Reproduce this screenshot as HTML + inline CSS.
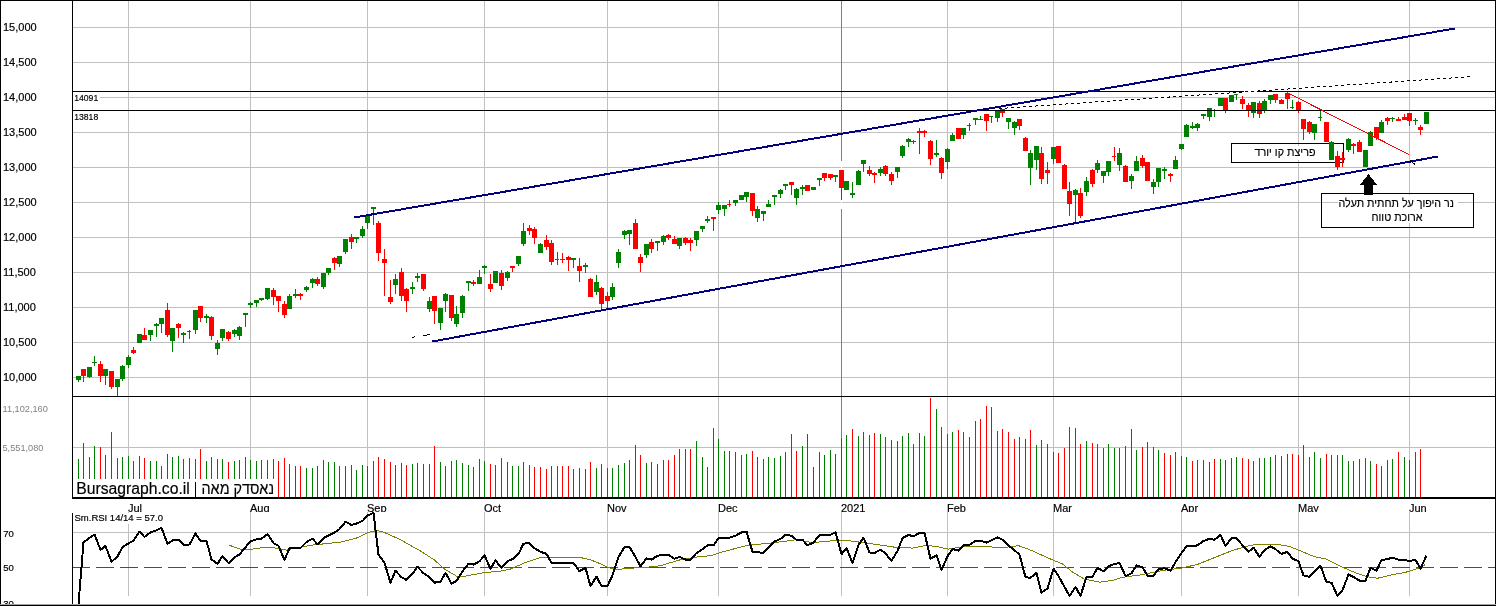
<!DOCTYPE html>
<html><head><meta charset="utf-8"><title>Bursagraph chart</title>
<style>html,body{margin:0;padding:0;background:#fff;}svg{display:block;}</style>
</head><body>
<svg width="1496" height="606" viewBox="0 0 1496 606" shape-rendering="crispEdges">
<rect x="73" y="27" width="1422" height="1" fill="#c0c0c0"/>
<rect x="73" y="62" width="1422" height="1" fill="#c0c0c0"/>
<rect x="73" y="97" width="1422" height="1" fill="#c0c0c0"/>
<rect x="73" y="132" width="1422" height="1" fill="#c0c0c0"/>
<rect x="73" y="167" width="1422" height="1" fill="#c0c0c0"/>
<rect x="73" y="202" width="1422" height="1" fill="#c0c0c0"/>
<rect x="73" y="237" width="1422" height="1" fill="#c0c0c0"/>
<rect x="73" y="272" width="1422" height="1" fill="#c0c0c0"/>
<rect x="73" y="307" width="1422" height="1" fill="#c0c0c0"/>
<rect x="73" y="342" width="1422" height="1" fill="#c0c0c0"/>
<rect x="73" y="377" width="1422" height="1" fill="#c0c0c0"/>
<rect x="73" y="447" width="1422" height="1" fill="#c0c0c0"/>
<rect x="73" y="532" width="1422" height="1" fill="#c0c0c0"/>
<rect x="128" y="1" width="1" height="395" fill="#c0c0c0"/>
<rect x="128" y="397" width="1" height="100" fill="#c0c0c0"/>
<rect x="128" y="512" width="1" height="84" fill="#c0c0c0"/>
<rect x="250" y="1" width="1" height="395" fill="#c0c0c0"/>
<rect x="250" y="397" width="1" height="100" fill="#c0c0c0"/>
<rect x="250" y="512" width="1" height="84" fill="#c0c0c0"/>
<rect x="367" y="1" width="1" height="395" fill="#c0c0c0"/>
<rect x="367" y="397" width="1" height="100" fill="#c0c0c0"/>
<rect x="367" y="512" width="1" height="84" fill="#c0c0c0"/>
<rect x="484" y="1" width="1" height="395" fill="#c0c0c0"/>
<rect x="484" y="397" width="1" height="100" fill="#c0c0c0"/>
<rect x="484" y="512" width="1" height="84" fill="#c0c0c0"/>
<rect x="607" y="1" width="1" height="395" fill="#c0c0c0"/>
<rect x="607" y="397" width="1" height="100" fill="#c0c0c0"/>
<rect x="607" y="512" width="1" height="84" fill="#c0c0c0"/>
<rect x="718" y="1" width="1" height="395" fill="#c0c0c0"/>
<rect x="718" y="397" width="1" height="100" fill="#c0c0c0"/>
<rect x="718" y="512" width="1" height="84" fill="#c0c0c0"/>
<rect x="841" y="1" width="1" height="160" fill="#808080"/>
<rect x="841" y="209" width="1" height="187" fill="#808080"/>
<rect x="841" y="397" width="1" height="100" fill="#808080"/>
<rect x="841" y="512" width="1" height="84" fill="#c0c0c0"/>
<rect x="947" y="1" width="1" height="395" fill="#c0c0c0"/>
<rect x="947" y="397" width="1" height="100" fill="#c0c0c0"/>
<rect x="947" y="512" width="1" height="84" fill="#c0c0c0"/>
<rect x="1053" y="1" width="1" height="395" fill="#c0c0c0"/>
<rect x="1053" y="397" width="1" height="100" fill="#c0c0c0"/>
<rect x="1053" y="512" width="1" height="84" fill="#c0c0c0"/>
<rect x="1181" y="1" width="1" height="395" fill="#c0c0c0"/>
<rect x="1181" y="397" width="1" height="100" fill="#c0c0c0"/>
<rect x="1181" y="512" width="1" height="84" fill="#c0c0c0"/>
<rect x="1298" y="1" width="1" height="395" fill="#c0c0c0"/>
<rect x="1298" y="397" width="1" height="100" fill="#c0c0c0"/>
<rect x="1298" y="512" width="1" height="84" fill="#c0c0c0"/>
<rect x="1409" y="1" width="1" height="395" fill="#c0c0c0"/>
<rect x="1409" y="397" width="1" height="100" fill="#c0c0c0"/>
<rect x="1409" y="512" width="1" height="84" fill="#c0c0c0"/>
<rect x="841" y="167" width="1" height="1" fill="#fff"/><rect x="841" y="202" width="1" height="1" fill="#fff"/>
<line x1="72" y1="567.5" x2="1495" y2="567.5" stroke="#ff0000" stroke-width="1" stroke-dasharray="18 6"/>
<rect x="73" y="92" width="27" height="10" fill="#fff"/>
<rect x="73" y="111" width="26" height="10" fill="#fff"/>
<rect x="1231.5" y="143.5" width="112" height="19" fill="none" stroke="#000" stroke-width="1"/>
<rect x="1321.5" y="193.5" width="152" height="34" fill="none" stroke="#000" stroke-width="1"/>
<rect x="1338" y="195" width="120" height="13" fill="#fff"/>
<rect x="1370" y="208" width="54" height="15" fill="#fff"/>
<rect x="1252" y="146" width="66" height="14" fill="#fff"/>
<rect x="78" y="459" width="1" height="38" fill="#008000"/>
<rect x="83" y="443" width="1" height="54" fill="#ff0000"/>
<rect x="89" y="457" width="1" height="40" fill="#008000"/>
<rect x="94" y="446" width="1" height="51" fill="#008000"/>
<rect x="100" y="447" width="1" height="50" fill="#ff0000"/>
<rect x="105" y="455" width="1" height="42" fill="#008000"/>
<rect x="111" y="432" width="1" height="65" fill="#ff0000"/>
<rect x="117" y="458" width="1" height="39" fill="#008000"/>
<rect x="122" y="457" width="1" height="40" fill="#008000"/>
<rect x="128" y="456" width="1" height="41" fill="#008000"/>
<rect x="133" y="461" width="1" height="36" fill="#008000"/>
<rect x="139" y="456" width="1" height="41" fill="#008000"/>
<rect x="144" y="458" width="1" height="39" fill="#ff0000"/>
<rect x="150" y="461" width="1" height="36" fill="#008000"/>
<rect x="156" y="461" width="1" height="36" fill="#008000"/>
<rect x="161" y="466" width="1" height="31" fill="#008000"/>
<rect x="167" y="454" width="1" height="43" fill="#ff0000"/>
<rect x="172" y="457" width="1" height="40" fill="#008000"/>
<rect x="178" y="456" width="1" height="41" fill="#008000"/>
<rect x="183" y="459" width="1" height="38" fill="#ff0000"/>
<rect x="189" y="458" width="1" height="39" fill="#008000"/>
<rect x="195" y="459" width="1" height="38" fill="#008000"/>
<rect x="200" y="449" width="1" height="48" fill="#ff0000"/>
<rect x="206" y="461" width="1" height="36" fill="#008000"/>
<rect x="211" y="457" width="1" height="40" fill="#ff0000"/>
<rect x="217" y="459" width="1" height="38" fill="#ff0000"/>
<rect x="222" y="459" width="1" height="38" fill="#008000"/>
<rect x="228" y="462" width="1" height="35" fill="#ff0000"/>
<rect x="234" y="461" width="1" height="36" fill="#008000"/>
<rect x="239" y="460" width="1" height="37" fill="#008000"/>
<rect x="245" y="457" width="1" height="40" fill="#008000"/>
<rect x="250" y="460" width="1" height="37" fill="#008000"/>
<rect x="256" y="461" width="1" height="36" fill="#008000"/>
<rect x="261" y="460" width="1" height="37" fill="#008000"/>
<rect x="267" y="460" width="1" height="37" fill="#008000"/>
<rect x="273" y="459" width="1" height="38" fill="#ff0000"/>
<rect x="278" y="461" width="1" height="36" fill="#ff0000"/>
<rect x="284" y="458" width="1" height="39" fill="#ff0000"/>
<rect x="289" y="464" width="1" height="33" fill="#008000"/>
<rect x="295" y="466" width="1" height="31" fill="#008000"/>
<rect x="300" y="466" width="1" height="31" fill="#ff0000"/>
<rect x="306" y="468" width="1" height="29" fill="#008000"/>
<rect x="312" y="468" width="1" height="29" fill="#008000"/>
<rect x="317" y="466" width="1" height="31" fill="#ff0000"/>
<rect x="323" y="460" width="1" height="37" fill="#008000"/>
<rect x="328" y="462" width="1" height="35" fill="#008000"/>
<rect x="334" y="462" width="1" height="35" fill="#008000"/>
<rect x="339" y="466" width="1" height="31" fill="#008000"/>
<rect x="345" y="466" width="1" height="31" fill="#008000"/>
<rect x="351" y="465" width="1" height="32" fill="#ff0000"/>
<rect x="356" y="470" width="1" height="27" fill="#008000"/>
<rect x="362" y="465" width="1" height="32" fill="#008000"/>
<rect x="367" y="466" width="1" height="31" fill="#008000"/>
<rect x="373" y="461" width="1" height="36" fill="#008000"/>
<rect x="378" y="457" width="1" height="40" fill="#ff0000"/>
<rect x="384" y="459" width="1" height="38" fill="#ff0000"/>
<rect x="390" y="462" width="1" height="35" fill="#ff0000"/>
<rect x="395" y="465" width="1" height="32" fill="#008000"/>
<rect x="401" y="463" width="1" height="34" fill="#ff0000"/>
<rect x="406" y="465" width="1" height="32" fill="#ff0000"/>
<rect x="412" y="464" width="1" height="33" fill="#008000"/>
<rect x="417" y="463" width="1" height="34" fill="#008000"/>
<rect x="423" y="464" width="1" height="33" fill="#ff0000"/>
<rect x="429" y="464" width="1" height="33" fill="#ff0000"/>
<rect x="434" y="446" width="1" height="51" fill="#ff0000"/>
<rect x="440" y="462" width="1" height="35" fill="#008000"/>
<rect x="445" y="466" width="1" height="31" fill="#008000"/>
<rect x="451" y="461" width="1" height="36" fill="#ff0000"/>
<rect x="456" y="460" width="1" height="37" fill="#008000"/>
<rect x="462" y="463" width="1" height="34" fill="#008000"/>
<rect x="468" y="465" width="1" height="32" fill="#008000"/>
<rect x="473" y="467" width="1" height="30" fill="#ff0000"/>
<rect x="479" y="459" width="1" height="38" fill="#008000"/>
<rect x="484" y="461" width="1" height="36" fill="#008000"/>
<rect x="490" y="464" width="1" height="33" fill="#ff0000"/>
<rect x="495" y="465" width="1" height="32" fill="#008000"/>
<rect x="501" y="458" width="1" height="39" fill="#ff0000"/>
<rect x="507" y="462" width="1" height="35" fill="#008000"/>
<rect x="512" y="466" width="1" height="31" fill="#008000"/>
<rect x="518" y="466" width="1" height="31" fill="#008000"/>
<rect x="523" y="462" width="1" height="35" fill="#008000"/>
<rect x="529" y="465" width="1" height="32" fill="#ff0000"/>
<rect x="534" y="467" width="1" height="30" fill="#ff0000"/>
<rect x="540" y="467" width="1" height="30" fill="#ff0000"/>
<rect x="546" y="469" width="1" height="28" fill="#ff0000"/>
<rect x="551" y="466" width="1" height="31" fill="#ff0000"/>
<rect x="557" y="466" width="1" height="31" fill="#008000"/>
<rect x="562" y="466" width="1" height="31" fill="#ff0000"/>
<rect x="568" y="466" width="1" height="31" fill="#ff0000"/>
<rect x="573" y="469" width="1" height="28" fill="#008000"/>
<rect x="579" y="468" width="1" height="29" fill="#ff0000"/>
<rect x="585" y="469" width="1" height="28" fill="#008000"/>
<rect x="590" y="462" width="1" height="35" fill="#ff0000"/>
<rect x="596" y="468" width="1" height="29" fill="#008000"/>
<rect x="601" y="464" width="1" height="33" fill="#ff0000"/>
<rect x="607" y="468" width="1" height="29" fill="#008000"/>
<rect x="612" y="468" width="1" height="29" fill="#008000"/>
<rect x="618" y="465" width="1" height="32" fill="#008000"/>
<rect x="624" y="463" width="1" height="34" fill="#008000"/>
<rect x="629" y="460" width="1" height="37" fill="#008000"/>
<rect x="635" y="445" width="1" height="52" fill="#ff0000"/>
<rect x="640" y="455" width="1" height="42" fill="#ff0000"/>
<rect x="646" y="463" width="1" height="34" fill="#008000"/>
<rect x="651" y="462" width="1" height="35" fill="#ff0000"/>
<rect x="657" y="464" width="1" height="33" fill="#008000"/>
<rect x="663" y="460" width="1" height="37" fill="#008000"/>
<rect x="668" y="460" width="1" height="37" fill="#ff0000"/>
<rect x="674" y="455" width="1" height="42" fill="#ff0000"/>
<rect x="679" y="449" width="1" height="48" fill="#008000"/>
<rect x="685" y="449" width="1" height="48" fill="#ff0000"/>
<rect x="690" y="449" width="1" height="48" fill="#ff0000"/>
<rect x="696" y="441" width="1" height="56" fill="#008000"/>
<rect x="702" y="457" width="1" height="40" fill="#008000"/>
<rect x="707" y="467" width="1" height="30" fill="#008000"/>
<rect x="713" y="428" width="1" height="69" fill="#008000"/>
<rect x="718" y="439" width="1" height="58" fill="#008000"/>
<rect x="724" y="451" width="1" height="46" fill="#008000"/>
<rect x="729" y="451" width="1" height="46" fill="#008000"/>
<rect x="735" y="452" width="1" height="45" fill="#008000"/>
<rect x="741" y="455" width="1" height="42" fill="#008000"/>
<rect x="746" y="454" width="1" height="43" fill="#008000"/>
<rect x="752" y="451" width="1" height="46" fill="#ff0000"/>
<rect x="757" y="457" width="1" height="40" fill="#008000"/>
<rect x="763" y="459" width="1" height="38" fill="#ff0000"/>
<rect x="768" y="457" width="1" height="40" fill="#008000"/>
<rect x="774" y="458" width="1" height="39" fill="#008000"/>
<rect x="780" y="456" width="1" height="41" fill="#008000"/>
<rect x="785" y="452" width="1" height="45" fill="#008000"/>
<rect x="791" y="434" width="1" height="63" fill="#ff0000"/>
<rect x="796" y="451" width="1" height="46" fill="#ff0000"/>
<rect x="802" y="446" width="1" height="51" fill="#008000"/>
<rect x="807" y="434" width="1" height="63" fill="#ff0000"/>
<rect x="813" y="467" width="1" height="30" fill="#008000"/>
<rect x="819" y="452" width="1" height="45" fill="#008000"/>
<rect x="824" y="455" width="1" height="42" fill="#008000"/>
<rect x="830" y="450" width="1" height="47" fill="#008000"/>
<rect x="835" y="454" width="1" height="43" fill="#008000"/>
<rect x="841" y="438" width="1" height="59" fill="#ff0000"/>
<rect x="846" y="435" width="1" height="62" fill="#008000"/>
<rect x="852" y="429" width="1" height="68" fill="#ff0000"/>
<rect x="858" y="436" width="1" height="61" fill="#008000"/>
<rect x="863" y="432" width="1" height="65" fill="#008000"/>
<rect x="869" y="435" width="1" height="62" fill="#ff0000"/>
<rect x="874" y="433" width="1" height="64" fill="#ff0000"/>
<rect x="880" y="434" width="1" height="63" fill="#008000"/>
<rect x="885" y="437" width="1" height="60" fill="#ff0000"/>
<rect x="891" y="440" width="1" height="57" fill="#ff0000"/>
<rect x="897" y="441" width="1" height="56" fill="#008000"/>
<rect x="902" y="436" width="1" height="61" fill="#008000"/>
<rect x="908" y="433" width="1" height="64" fill="#008000"/>
<rect x="913" y="444" width="1" height="53" fill="#ff0000"/>
<rect x="919" y="433" width="1" height="64" fill="#008000"/>
<rect x="924" y="436" width="1" height="61" fill="#008000"/>
<rect x="930" y="398" width="1" height="99" fill="#ff0000"/>
<rect x="936" y="409" width="1" height="88" fill="#008000"/>
<rect x="941" y="427" width="1" height="70" fill="#ff0000"/>
<rect x="947" y="434" width="1" height="63" fill="#008000"/>
<rect x="952" y="432" width="1" height="65" fill="#008000"/>
<rect x="958" y="430" width="1" height="67" fill="#ff0000"/>
<rect x="963" y="432" width="1" height="65" fill="#008000"/>
<rect x="969" y="437" width="1" height="60" fill="#008000"/>
<rect x="975" y="421" width="1" height="76" fill="#008000"/>
<rect x="980" y="419" width="1" height="78" fill="#ff0000"/>
<rect x="986" y="406" width="1" height="91" fill="#ff0000"/>
<rect x="991" y="407" width="1" height="90" fill="#008000"/>
<rect x="997" y="431" width="1" height="66" fill="#008000"/>
<rect x="1002" y="429" width="1" height="68" fill="#ff0000"/>
<rect x="1008" y="432" width="1" height="65" fill="#ff0000"/>
<rect x="1014" y="439" width="1" height="58" fill="#ff0000"/>
<rect x="1019" y="437" width="1" height="60" fill="#ff0000"/>
<rect x="1025" y="439" width="1" height="58" fill="#ff0000"/>
<rect x="1030" y="430" width="1" height="67" fill="#ff0000"/>
<rect x="1036" y="445" width="1" height="52" fill="#008000"/>
<rect x="1041" y="440" width="1" height="57" fill="#ff0000"/>
<rect x="1047" y="444" width="1" height="53" fill="#008000"/>
<rect x="1053" y="452" width="1" height="45" fill="#008000"/>
<rect x="1058" y="453" width="1" height="44" fill="#ff0000"/>
<rect x="1064" y="448" width="1" height="49" fill="#ff0000"/>
<rect x="1069" y="427" width="1" height="70" fill="#ff0000"/>
<rect x="1075" y="428" width="1" height="69" fill="#008000"/>
<rect x="1080" y="444" width="1" height="53" fill="#ff0000"/>
<rect x="1086" y="441" width="1" height="56" fill="#008000"/>
<rect x="1092" y="443" width="1" height="54" fill="#ff0000"/>
<rect x="1097" y="444" width="1" height="53" fill="#008000"/>
<rect x="1103" y="448" width="1" height="49" fill="#ff0000"/>
<rect x="1108" y="444" width="1" height="53" fill="#008000"/>
<rect x="1114" y="448" width="1" height="49" fill="#008000"/>
<rect x="1119" y="448" width="1" height="49" fill="#008000"/>
<rect x="1125" y="446" width="1" height="51" fill="#ff0000"/>
<rect x="1131" y="429" width="1" height="68" fill="#008000"/>
<rect x="1136" y="450" width="1" height="47" fill="#008000"/>
<rect x="1142" y="447" width="1" height="50" fill="#ff0000"/>
<rect x="1147" y="442" width="1" height="55" fill="#ff0000"/>
<rect x="1153" y="447" width="1" height="50" fill="#ff0000"/>
<rect x="1158" y="450" width="1" height="47" fill="#008000"/>
<rect x="1164" y="453" width="1" height="44" fill="#ff0000"/>
<rect x="1170" y="455" width="1" height="42" fill="#ff0000"/>
<rect x="1175" y="452" width="1" height="45" fill="#008000"/>
<rect x="1181" y="456" width="1" height="41" fill="#008000"/>
<rect x="1186" y="457" width="1" height="40" fill="#008000"/>
<rect x="1192" y="461" width="1" height="36" fill="#ff0000"/>
<rect x="1197" y="460" width="1" height="37" fill="#008000"/>
<rect x="1203" y="460" width="1" height="37" fill="#008000"/>
<rect x="1209" y="462" width="1" height="35" fill="#008000"/>
<rect x="1214" y="459" width="1" height="38" fill="#ff0000"/>
<rect x="1220" y="459" width="1" height="38" fill="#008000"/>
<rect x="1225" y="460" width="1" height="37" fill="#ff0000"/>
<rect x="1231" y="458" width="1" height="39" fill="#008000"/>
<rect x="1236" y="457" width="1" height="40" fill="#008000"/>
<rect x="1242" y="458" width="1" height="39" fill="#ff0000"/>
<rect x="1248" y="459" width="1" height="38" fill="#ff0000"/>
<rect x="1253" y="461" width="1" height="36" fill="#008000"/>
<rect x="1259" y="458" width="1" height="39" fill="#ff0000"/>
<rect x="1264" y="458" width="1" height="39" fill="#008000"/>
<rect x="1270" y="457" width="1" height="40" fill="#008000"/>
<rect x="1275" y="455" width="1" height="42" fill="#ff0000"/>
<rect x="1281" y="456" width="1" height="41" fill="#ff0000"/>
<rect x="1287" y="454" width="1" height="43" fill="#008000"/>
<rect x="1292" y="454" width="1" height="43" fill="#ff0000"/>
<rect x="1298" y="455" width="1" height="42" fill="#ff0000"/>
<rect x="1303" y="445" width="1" height="52" fill="#ff0000"/>
<rect x="1309" y="457" width="1" height="40" fill="#ff0000"/>
<rect x="1314" y="452" width="1" height="45" fill="#008000"/>
<rect x="1320" y="458" width="1" height="39" fill="#008000"/>
<rect x="1326" y="454" width="1" height="43" fill="#ff0000"/>
<rect x="1331" y="455" width="1" height="42" fill="#ff0000"/>
<rect x="1337" y="455" width="1" height="42" fill="#ff0000"/>
<rect x="1342" y="455" width="1" height="42" fill="#008000"/>
<rect x="1348" y="461" width="1" height="36" fill="#008000"/>
<rect x="1353" y="461" width="1" height="36" fill="#ff0000"/>
<rect x="1359" y="459" width="1" height="38" fill="#ff0000"/>
<rect x="1365" y="458" width="1" height="39" fill="#008000"/>
<rect x="1370" y="461" width="1" height="36" fill="#008000"/>
<rect x="1376" y="464" width="1" height="33" fill="#ff0000"/>
<rect x="1381" y="466" width="1" height="31" fill="#008000"/>
<rect x="1387" y="460" width="1" height="37" fill="#008000"/>
<rect x="1392" y="459" width="1" height="38" fill="#008000"/>
<rect x="1398" y="452" width="1" height="45" fill="#ff0000"/>
<rect x="1404" y="457" width="1" height="40" fill="#008000"/>
<rect x="1409" y="460" width="1" height="37" fill="#ff0000"/>
<rect x="1415" y="452" width="1" height="45" fill="#008000"/>
<rect x="1420" y="449" width="1" height="48" fill="#ff0000"/>
<rect x="78" y="376" width="1" height="6" fill="#008000"/>
<rect x="76" y="376" width="5" height="4" fill="#008000"/>
<rect x="83" y="369" width="1" height="13" fill="#ff0000"/>
<rect x="81" y="369" width="5" height="7" fill="#ff0000"/>
<rect x="89" y="367" width="1" height="11" fill="#008000"/>
<rect x="87" y="367" width="5" height="10" fill="#008000"/>
<rect x="94" y="356" width="1" height="10" fill="#008000"/>
<rect x="92" y="362" width="5" height="1" fill="#008000"/>
<rect x="100" y="361" width="1" height="21" fill="#ff0000"/>
<rect x="98" y="364" width="5" height="12" fill="#ff0000"/>
<rect x="105" y="369" width="1" height="16" fill="#008000"/>
<rect x="103" y="369" width="5" height="7" fill="#008000"/>
<rect x="111" y="371" width="1" height="18" fill="#ff0000"/>
<rect x="109" y="371" width="5" height="16" fill="#ff0000"/>
<rect x="117" y="379" width="1" height="17" fill="#008000"/>
<rect x="115" y="379" width="5" height="8" fill="#008000"/>
<rect x="122" y="365" width="1" height="16" fill="#008000"/>
<rect x="120" y="366" width="5" height="13" fill="#008000"/>
<rect x="128" y="355" width="1" height="13" fill="#008000"/>
<rect x="126" y="357" width="5" height="8" fill="#008000"/>
<rect x="133" y="347" width="1" height="7" fill="#ff0000"/>
<rect x="131" y="350" width="5" height="3" fill="#ff0000"/>
<rect x="139" y="334" width="1" height="8" fill="#008000"/>
<rect x="137" y="334" width="5" height="9" fill="#008000"/>
<rect x="144" y="328" width="1" height="11" fill="#ff0000"/>
<rect x="142" y="335" width="5" height="5" fill="#ff0000"/>
<rect x="150" y="330" width="1" height="11" fill="#008000"/>
<rect x="148" y="330" width="5" height="5" fill="#008000"/>
<rect x="156" y="323" width="1" height="14" fill="#008000"/>
<rect x="154" y="324" width="5" height="2" fill="#008000"/>
<rect x="161" y="318" width="1" height="15" fill="#008000"/>
<rect x="159" y="318" width="5" height="6" fill="#008000"/>
<rect x="167" y="303" width="1" height="34" fill="#ff0000"/>
<rect x="165" y="310" width="5" height="25" fill="#ff0000"/>
<rect x="172" y="328" width="1" height="24" fill="#008000"/>
<rect x="170" y="328" width="5" height="13" fill="#008000"/>
<rect x="178" y="323" width="1" height="15" fill="#ff0000"/>
<rect x="176" y="324" width="5" height="4" fill="#ff0000"/>
<rect x="183" y="332" width="1" height="11" fill="#008000"/>
<rect x="181" y="333" width="5" height="2" fill="#008000"/>
<rect x="189" y="330" width="1" height="9" fill="#ff0000"/>
<rect x="187" y="331" width="4" height="1" fill="#ff0000"/>
<rect x="195" y="310" width="1" height="24" fill="#008000"/>
<rect x="193" y="310" width="5" height="20" fill="#008000"/>
<rect x="200" y="306" width="1" height="16" fill="#ff0000"/>
<rect x="198" y="306" width="5" height="12" fill="#ff0000"/>
<rect x="206" y="314" width="1" height="9" fill="#008000"/>
<rect x="204" y="316" width="5" height="2" fill="#008000"/>
<rect x="211" y="316" width="1" height="24" fill="#ff0000"/>
<rect x="209" y="317" width="5" height="19" fill="#ff0000"/>
<rect x="217" y="340" width="1" height="15" fill="#008000"/>
<rect x="215" y="343" width="5" height="6" fill="#008000"/>
<rect x="222" y="329" width="1" height="12" fill="#008000"/>
<rect x="220" y="329" width="5" height="9" fill="#008000"/>
<rect x="228" y="331" width="1" height="10" fill="#ff0000"/>
<rect x="226" y="332" width="5" height="7" fill="#ff0000"/>
<rect x="234" y="329" width="1" height="8" fill="#008000"/>
<rect x="232" y="330" width="5" height="4" fill="#008000"/>
<rect x="239" y="326" width="1" height="14" fill="#008000"/>
<rect x="237" y="327" width="5" height="9" fill="#008000"/>
<rect x="245" y="313" width="1" height="14" fill="#008000"/>
<rect x="243" y="313" width="5" height="2" fill="#008000"/>
<rect x="250" y="302" width="1" height="6" fill="#008000"/>
<rect x="248" y="303" width="5" height="2" fill="#008000"/>
<rect x="256" y="300" width="1" height="7" fill="#008000"/>
<rect x="254" y="300" width="5" height="3" fill="#008000"/>
<rect x="261" y="298" width="1" height="3" fill="#008000"/>
<rect x="259" y="298" width="5" height="2" fill="#008000"/>
<rect x="267" y="288" width="1" height="12" fill="#008000"/>
<rect x="265" y="288" width="5" height="11" fill="#008000"/>
<rect x="273" y="288" width="1" height="17" fill="#ff0000"/>
<rect x="271" y="290" width="5" height="7" fill="#ff0000"/>
<rect x="278" y="296" width="1" height="16" fill="#ff0000"/>
<rect x="276" y="296" width="5" height="5" fill="#ff0000"/>
<rect x="284" y="301" width="1" height="17" fill="#ff0000"/>
<rect x="282" y="304" width="5" height="11" fill="#ff0000"/>
<rect x="289" y="294" width="1" height="14" fill="#008000"/>
<rect x="287" y="296" width="5" height="13" fill="#008000"/>
<rect x="295" y="289" width="1" height="9" fill="#008000"/>
<rect x="293" y="294" width="5" height="2" fill="#008000"/>
<rect x="300" y="293" width="1" height="7" fill="#ff0000"/>
<rect x="298" y="294" width="5" height="2" fill="#ff0000"/>
<rect x="306" y="286" width="1" height="6" fill="#008000"/>
<rect x="304" y="287" width="5" height="3" fill="#008000"/>
<rect x="312" y="278" width="1" height="10" fill="#008000"/>
<rect x="310" y="279" width="5" height="4" fill="#008000"/>
<rect x="317" y="277" width="1" height="9" fill="#ff0000"/>
<rect x="315" y="279" width="5" height="5" fill="#ff0000"/>
<rect x="323" y="273" width="1" height="16" fill="#008000"/>
<rect x="321" y="273" width="5" height="14" fill="#008000"/>
<rect x="328" y="268" width="1" height="7" fill="#008000"/>
<rect x="326" y="268" width="5" height="5" fill="#008000"/>
<rect x="334" y="257" width="1" height="13" fill="#ff0000"/>
<rect x="332" y="258" width="5" height="5" fill="#ff0000"/>
<rect x="339" y="256" width="1" height="11" fill="#008000"/>
<rect x="337" y="256" width="5" height="8" fill="#008000"/>
<rect x="345" y="239" width="1" height="15" fill="#008000"/>
<rect x="343" y="239" width="5" height="13" fill="#008000"/>
<rect x="351" y="234" width="1" height="15" fill="#ff0000"/>
<rect x="349" y="237" width="5" height="5" fill="#ff0000"/>
<rect x="356" y="237" width="1" height="6" fill="#008000"/>
<rect x="354" y="237" width="5" height="2" fill="#008000"/>
<rect x="362" y="226" width="1" height="12" fill="#008000"/>
<rect x="360" y="229" width="5" height="7" fill="#008000"/>
<rect x="367" y="216" width="1" height="13" fill="#008000"/>
<rect x="365" y="216" width="5" height="7" fill="#008000"/>
<rect x="373" y="207" width="1" height="18" fill="#008000"/>
<rect x="371" y="207" width="5" height="2" fill="#008000"/>
<rect x="378" y="221" width="1" height="40" fill="#ff0000"/>
<rect x="376" y="223" width="5" height="30" fill="#ff0000"/>
<rect x="384" y="249" width="1" height="47" fill="#ff0000"/>
<rect x="382" y="259" width="5" height="4" fill="#ff0000"/>
<rect x="390" y="280" width="1" height="24" fill="#ff0000"/>
<rect x="388" y="297" width="5" height="5" fill="#ff0000"/>
<rect x="395" y="274" width="1" height="20" fill="#008000"/>
<rect x="393" y="279" width="5" height="6" fill="#008000"/>
<rect x="401" y="268" width="1" height="33" fill="#ff0000"/>
<rect x="399" y="272" width="5" height="24" fill="#ff0000"/>
<rect x="406" y="288" width="1" height="24" fill="#ff0000"/>
<rect x="404" y="289" width="5" height="12" fill="#ff0000"/>
<rect x="412" y="282" width="1" height="12" fill="#008000"/>
<rect x="410" y="287" width="5" height="2" fill="#008000"/>
<rect x="417" y="273" width="1" height="9" fill="#008000"/>
<rect x="415" y="276" width="5" height="2" fill="#008000"/>
<rect x="423" y="274" width="1" height="17" fill="#ff0000"/>
<rect x="421" y="274" width="5" height="15" fill="#ff0000"/>
<rect x="429" y="297" width="1" height="15" fill="#008000"/>
<rect x="427" y="301" width="5" height="8" fill="#008000"/>
<rect x="434" y="296" width="1" height="28" fill="#ff0000"/>
<rect x="432" y="296" width="5" height="15" fill="#ff0000"/>
<rect x="440" y="308" width="1" height="22" fill="#008000"/>
<rect x="438" y="308" width="5" height="15" fill="#008000"/>
<rect x="445" y="293" width="1" height="19" fill="#008000"/>
<rect x="443" y="294" width="5" height="7" fill="#008000"/>
<rect x="451" y="295" width="1" height="26" fill="#ff0000"/>
<rect x="449" y="295" width="5" height="23" fill="#ff0000"/>
<rect x="456" y="306" width="1" height="21" fill="#008000"/>
<rect x="454" y="314" width="5" height="10" fill="#008000"/>
<rect x="462" y="295" width="1" height="23" fill="#008000"/>
<rect x="460" y="296" width="5" height="17" fill="#008000"/>
<rect x="468" y="281" width="1" height="10" fill="#008000"/>
<rect x="466" y="281" width="5" height="2" fill="#008000"/>
<rect x="473" y="280" width="1" height="6" fill="#ff0000"/>
<rect x="471" y="282" width="5" height="2" fill="#ff0000"/>
<rect x="479" y="270" width="1" height="13" fill="#008000"/>
<rect x="477" y="277" width="5" height="7" fill="#008000"/>
<rect x="484" y="265" width="1" height="9" fill="#008000"/>
<rect x="482" y="266" width="5" height="2" fill="#008000"/>
<rect x="490" y="274" width="1" height="18" fill="#ff0000"/>
<rect x="488" y="284" width="5" height="5" fill="#ff0000"/>
<rect x="495" y="271" width="1" height="11" fill="#008000"/>
<rect x="493" y="271" width="5" height="12" fill="#008000"/>
<rect x="501" y="270" width="1" height="20" fill="#ff0000"/>
<rect x="499" y="273" width="5" height="13" fill="#ff0000"/>
<rect x="507" y="271" width="1" height="10" fill="#008000"/>
<rect x="505" y="272" width="5" height="6" fill="#008000"/>
<rect x="512" y="266" width="1" height="6" fill="#ff0000"/>
<rect x="510" y="266" width="5" height="2" fill="#ff0000"/>
<rect x="518" y="256" width="1" height="10" fill="#008000"/>
<rect x="516" y="256" width="5" height="8" fill="#008000"/>
<rect x="523" y="223" width="1" height="23" fill="#008000"/>
<rect x="521" y="231" width="5" height="13" fill="#008000"/>
<rect x="529" y="225" width="1" height="10" fill="#ff0000"/>
<rect x="527" y="228" width="5" height="3" fill="#ff0000"/>
<rect x="534" y="227" width="1" height="17" fill="#ff0000"/>
<rect x="532" y="229" width="5" height="9" fill="#ff0000"/>
<rect x="540" y="243" width="1" height="9" fill="#008000"/>
<rect x="538" y="244" width="5" height="9" fill="#008000"/>
<rect x="546" y="235" width="1" height="15" fill="#ff0000"/>
<rect x="544" y="240" width="5" height="7" fill="#ff0000"/>
<rect x="551" y="240" width="1" height="25" fill="#ff0000"/>
<rect x="549" y="243" width="5" height="19" fill="#ff0000"/>
<rect x="557" y="252" width="1" height="13" fill="#ff0000"/>
<rect x="555" y="259" width="4" height="1" fill="#ff0000"/>
<rect x="562" y="253" width="1" height="10" fill="#ff0000"/>
<rect x="560" y="259" width="5" height="1" fill="#ff0000"/>
<rect x="568" y="256" width="1" height="15" fill="#ff0000"/>
<rect x="566" y="257" width="5" height="3" fill="#ff0000"/>
<rect x="573" y="258" width="1" height="10" fill="#008000"/>
<rect x="571" y="258" width="5" height="2" fill="#008000"/>
<rect x="579" y="258" width="1" height="24" fill="#ff0000"/>
<rect x="577" y="266" width="5" height="5" fill="#ff0000"/>
<rect x="585" y="263" width="1" height="10" fill="#008000"/>
<rect x="583" y="265" width="5" height="2" fill="#008000"/>
<rect x="590" y="278" width="1" height="18" fill="#ff0000"/>
<rect x="588" y="279" width="5" height="18" fill="#ff0000"/>
<rect x="596" y="275" width="1" height="20" fill="#008000"/>
<rect x="594" y="282" width="5" height="10" fill="#008000"/>
<rect x="601" y="287" width="1" height="22" fill="#ff0000"/>
<rect x="599" y="288" width="5" height="16" fill="#ff0000"/>
<rect x="607" y="292" width="1" height="18" fill="#ff0000"/>
<rect x="605" y="296" width="5" height="5" fill="#ff0000"/>
<rect x="612" y="283" width="1" height="17" fill="#008000"/>
<rect x="610" y="287" width="5" height="10" fill="#008000"/>
<rect x="618" y="249" width="1" height="19" fill="#008000"/>
<rect x="616" y="252" width="5" height="11" fill="#008000"/>
<rect x="624" y="230" width="1" height="9" fill="#008000"/>
<rect x="622" y="231" width="5" height="4" fill="#008000"/>
<rect x="629" y="230" width="1" height="15" fill="#008000"/>
<rect x="627" y="230" width="5" height="4" fill="#008000"/>
<rect x="635" y="219" width="1" height="29" fill="#ff0000"/>
<rect x="633" y="223" width="5" height="26" fill="#ff0000"/>
<rect x="640" y="254" width="1" height="18" fill="#ff0000"/>
<rect x="638" y="257" width="5" height="6" fill="#ff0000"/>
<rect x="646" y="244" width="1" height="14" fill="#008000"/>
<rect x="644" y="244" width="5" height="11" fill="#008000"/>
<rect x="651" y="239" width="1" height="14" fill="#ff0000"/>
<rect x="649" y="242" width="5" height="7" fill="#ff0000"/>
<rect x="657" y="241" width="1" height="10" fill="#008000"/>
<rect x="655" y="241" width="5" height="2" fill="#008000"/>
<rect x="663" y="235" width="1" height="10" fill="#008000"/>
<rect x="661" y="236" width="5" height="6" fill="#008000"/>
<rect x="668" y="234" width="1" height="6" fill="#ff0000"/>
<rect x="666" y="235" width="5" height="3" fill="#ff0000"/>
<rect x="674" y="236" width="1" height="7" fill="#ff0000"/>
<rect x="672" y="239" width="5" height="5" fill="#ff0000"/>
<rect x="679" y="238" width="1" height="11" fill="#008000"/>
<rect x="677" y="238" width="5" height="8" fill="#008000"/>
<rect x="685" y="237" width="1" height="8" fill="#ff0000"/>
<rect x="683" y="238" width="5" height="5" fill="#ff0000"/>
<rect x="690" y="238" width="1" height="13" fill="#ff0000"/>
<rect x="688" y="240" width="5" height="3" fill="#ff0000"/>
<rect x="696" y="231" width="1" height="15" fill="#008000"/>
<rect x="694" y="231" width="5" height="9" fill="#008000"/>
<rect x="702" y="226" width="1" height="6" fill="#008000"/>
<rect x="700" y="226" width="5" height="3" fill="#008000"/>
<rect x="707" y="216" width="1" height="7" fill="#008000"/>
<rect x="705" y="219" width="5" height="2" fill="#008000"/>
<rect x="713" y="217" width="1" height="14" fill="#ff0000"/>
<rect x="711" y="217" width="5" height="2" fill="#ff0000"/>
<rect x="718" y="202" width="1" height="12" fill="#008000"/>
<rect x="716" y="205" width="5" height="5" fill="#008000"/>
<rect x="724" y="205" width="1" height="11" fill="#008000"/>
<rect x="722" y="205" width="5" height="4" fill="#008000"/>
<rect x="729" y="200" width="1" height="7" fill="#ff0000"/>
<rect x="727" y="204" width="4" height="1" fill="#ff0000"/>
<rect x="735" y="200" width="1" height="6" fill="#008000"/>
<rect x="733" y="200" width="5" height="3" fill="#008000"/>
<rect x="741" y="195" width="1" height="4" fill="#008000"/>
<rect x="739" y="195" width="5" height="5" fill="#008000"/>
<rect x="746" y="192" width="1" height="10" fill="#008000"/>
<rect x="744" y="192" width="5" height="5" fill="#008000"/>
<rect x="752" y="193" width="1" height="23" fill="#ff0000"/>
<rect x="750" y="193" width="5" height="18" fill="#ff0000"/>
<rect x="757" y="206" width="1" height="16" fill="#008000"/>
<rect x="755" y="209" width="5" height="9" fill="#008000"/>
<rect x="763" y="211" width="1" height="10" fill="#008000"/>
<rect x="761" y="211" width="5" height="3" fill="#008000"/>
<rect x="768" y="200" width="1" height="6" fill="#008000"/>
<rect x="766" y="204" width="5" height="3" fill="#008000"/>
<rect x="774" y="195" width="1" height="10" fill="#008000"/>
<rect x="772" y="195" width="5" height="2" fill="#008000"/>
<rect x="780" y="189" width="1" height="9" fill="#008000"/>
<rect x="778" y="190" width="5" height="4" fill="#008000"/>
<rect x="785" y="184" width="1" height="6" fill="#008000"/>
<rect x="783" y="184" width="5" height="2" fill="#008000"/>
<rect x="791" y="182" width="1" height="13" fill="#ff0000"/>
<rect x="789" y="182" width="5" height="3" fill="#ff0000"/>
<rect x="796" y="188" width="1" height="17" fill="#008000"/>
<rect x="794" y="189" width="5" height="9" fill="#008000"/>
<rect x="802" y="185" width="1" height="10" fill="#008000"/>
<rect x="800" y="187" width="5" height="2" fill="#008000"/>
<rect x="807" y="185" width="1" height="5" fill="#ff0000"/>
<rect x="805" y="185" width="5" height="6" fill="#ff0000"/>
<rect x="813" y="187" width="1" height="2" fill="#008000"/>
<rect x="811" y="187" width="5" height="3" fill="#008000"/>
<rect x="819" y="178" width="1" height="8" fill="#008000"/>
<rect x="817" y="178" width="5" height="2" fill="#008000"/>
<rect x="824" y="173" width="1" height="8" fill="#ff0000"/>
<rect x="822" y="173" width="5" height="5" fill="#ff0000"/>
<rect x="830" y="174" width="1" height="6" fill="#ff0000"/>
<rect x="828" y="174" width="5" height="4" fill="#ff0000"/>
<rect x="835" y="175" width="1" height="7" fill="#008000"/>
<rect x="833" y="175" width="5" height="2" fill="#008000"/>
<rect x="841" y="170" width="1" height="30" fill="#ff0000"/>
<rect x="839" y="170" width="5" height="18" fill="#ff0000"/>
<rect x="846" y="181" width="1" height="8" fill="#008000"/>
<rect x="844" y="181" width="5" height="9" fill="#008000"/>
<rect x="852" y="182" width="1" height="16" fill="#008000"/>
<rect x="850" y="193" width="5" height="2" fill="#008000"/>
<rect x="858" y="170" width="1" height="14" fill="#008000"/>
<rect x="856" y="171" width="5" height="14" fill="#008000"/>
<rect x="863" y="160" width="1" height="12" fill="#008000"/>
<rect x="861" y="160" width="5" height="4" fill="#008000"/>
<rect x="869" y="166" width="1" height="10" fill="#ff0000"/>
<rect x="867" y="170" width="5" height="4" fill="#ff0000"/>
<rect x="874" y="172" width="1" height="11" fill="#ff0000"/>
<rect x="872" y="173" width="5" height="2" fill="#ff0000"/>
<rect x="880" y="167" width="1" height="9" fill="#008000"/>
<rect x="878" y="169" width="5" height="4" fill="#008000"/>
<rect x="885" y="165" width="1" height="11" fill="#ff0000"/>
<rect x="883" y="166" width="5" height="8" fill="#ff0000"/>
<rect x="891" y="172" width="1" height="13" fill="#ff0000"/>
<rect x="889" y="174" width="5" height="7" fill="#ff0000"/>
<rect x="897" y="167" width="1" height="11" fill="#008000"/>
<rect x="895" y="167" width="5" height="5" fill="#008000"/>
<rect x="902" y="145" width="1" height="13" fill="#008000"/>
<rect x="900" y="146" width="5" height="10" fill="#008000"/>
<rect x="908" y="138" width="1" height="9" fill="#008000"/>
<rect x="906" y="139" width="5" height="3" fill="#008000"/>
<rect x="913" y="140" width="1" height="4" fill="#008000"/>
<rect x="911" y="141" width="5" height="1" fill="#008000"/>
<rect x="919" y="128" width="1" height="26" fill="#ff0000"/>
<rect x="917" y="131" width="5" height="2" fill="#ff0000"/>
<rect x="924" y="130" width="1" height="7" fill="#ff0000"/>
<rect x="922" y="131" width="5" height="2" fill="#ff0000"/>
<rect x="930" y="140" width="1" height="25" fill="#ff0000"/>
<rect x="928" y="141" width="5" height="18" fill="#ff0000"/>
<rect x="936" y="140" width="1" height="17" fill="#008000"/>
<rect x="934" y="153" width="5" height="2" fill="#008000"/>
<rect x="941" y="157" width="1" height="22" fill="#ff0000"/>
<rect x="939" y="158" width="5" height="15" fill="#ff0000"/>
<rect x="947" y="148" width="1" height="21" fill="#008000"/>
<rect x="945" y="149" width="5" height="13" fill="#008000"/>
<rect x="952" y="133" width="1" height="7" fill="#008000"/>
<rect x="950" y="135" width="5" height="6" fill="#008000"/>
<rect x="958" y="128" width="1" height="10" fill="#ff0000"/>
<rect x="956" y="128" width="5" height="11" fill="#ff0000"/>
<rect x="963" y="128" width="1" height="11" fill="#008000"/>
<rect x="961" y="128" width="5" height="7" fill="#008000"/>
<rect x="969" y="123" width="1" height="8" fill="#008000"/>
<rect x="967" y="125" width="4" height="1" fill="#008000"/>
<rect x="975" y="118" width="1" height="7" fill="#008000"/>
<rect x="973" y="118" width="5" height="2" fill="#008000"/>
<rect x="980" y="116" width="1" height="3" fill="#008000"/>
<rect x="978" y="119" width="5" height="1" fill="#008000"/>
<rect x="986" y="114" width="1" height="17" fill="#ff0000"/>
<rect x="984" y="114" width="5" height="7" fill="#ff0000"/>
<rect x="991" y="116" width="1" height="7" fill="#008000"/>
<rect x="989" y="116" width="4" height="1" fill="#008000"/>
<rect x="997" y="111" width="1" height="11" fill="#008000"/>
<rect x="995" y="111" width="5" height="7" fill="#008000"/>
<rect x="1002" y="109" width="1" height="8" fill="#ff0000"/>
<rect x="1000" y="109" width="5" height="4" fill="#ff0000"/>
<rect x="1008" y="118" width="1" height="11" fill="#008000"/>
<rect x="1006" y="118" width="5" height="4" fill="#008000"/>
<rect x="1014" y="121" width="1" height="14" fill="#008000"/>
<rect x="1012" y="122" width="5" height="6" fill="#008000"/>
<rect x="1019" y="119" width="1" height="11" fill="#ff0000"/>
<rect x="1017" y="119" width="5" height="7" fill="#ff0000"/>
<rect x="1025" y="137" width="1" height="13" fill="#ff0000"/>
<rect x="1023" y="138" width="5" height="13" fill="#ff0000"/>
<rect x="1030" y="150" width="1" height="35" fill="#008000"/>
<rect x="1028" y="153" width="5" height="15" fill="#008000"/>
<rect x="1036" y="146" width="1" height="24" fill="#008000"/>
<rect x="1034" y="146" width="5" height="14" fill="#008000"/>
<rect x="1041" y="147" width="1" height="37" fill="#ff0000"/>
<rect x="1039" y="153" width="5" height="26" fill="#ff0000"/>
<rect x="1047" y="162" width="1" height="22" fill="#ff0000"/>
<rect x="1045" y="170" width="5" height="3" fill="#ff0000"/>
<rect x="1053" y="147" width="1" height="17" fill="#008000"/>
<rect x="1051" y="147" width="5" height="12" fill="#008000"/>
<rect x="1058" y="146" width="1" height="16" fill="#ff0000"/>
<rect x="1056" y="146" width="5" height="17" fill="#ff0000"/>
<rect x="1064" y="164" width="1" height="24" fill="#ff0000"/>
<rect x="1062" y="165" width="5" height="24" fill="#ff0000"/>
<rect x="1069" y="182" width="1" height="34" fill="#ff0000"/>
<rect x="1067" y="191" width="5" height="13" fill="#ff0000"/>
<rect x="1075" y="189" width="1" height="33" fill="#008000"/>
<rect x="1073" y="190" width="5" height="5" fill="#008000"/>
<rect x="1080" y="188" width="1" height="30" fill="#ff0000"/>
<rect x="1078" y="193" width="5" height="23" fill="#ff0000"/>
<rect x="1086" y="177" width="1" height="19" fill="#008000"/>
<rect x="1084" y="181" width="5" height="11" fill="#008000"/>
<rect x="1092" y="169" width="1" height="18" fill="#ff0000"/>
<rect x="1090" y="170" width="5" height="14" fill="#ff0000"/>
<rect x="1097" y="160" width="1" height="13" fill="#008000"/>
<rect x="1095" y="163" width="5" height="7" fill="#008000"/>
<rect x="1103" y="171" width="1" height="12" fill="#008000"/>
<rect x="1101" y="171" width="5" height="5" fill="#008000"/>
<rect x="1108" y="161" width="1" height="15" fill="#008000"/>
<rect x="1106" y="161" width="5" height="11" fill="#008000"/>
<rect x="1114" y="147" width="1" height="14" fill="#ff0000"/>
<rect x="1112" y="156" width="4" height="1" fill="#ff0000"/>
<rect x="1119" y="148" width="1" height="23" fill="#008000"/>
<rect x="1117" y="153" width="5" height="12" fill="#008000"/>
<rect x="1125" y="165" width="1" height="16" fill="#ff0000"/>
<rect x="1123" y="166" width="5" height="16" fill="#ff0000"/>
<rect x="1131" y="174" width="1" height="15" fill="#008000"/>
<rect x="1129" y="176" width="5" height="5" fill="#008000"/>
<rect x="1136" y="156" width="1" height="14" fill="#008000"/>
<rect x="1134" y="161" width="5" height="10" fill="#008000"/>
<rect x="1142" y="155" width="1" height="13" fill="#ff0000"/>
<rect x="1140" y="158" width="5" height="8" fill="#ff0000"/>
<rect x="1147" y="162" width="1" height="18" fill="#ff0000"/>
<rect x="1145" y="162" width="5" height="19" fill="#ff0000"/>
<rect x="1153" y="179" width="1" height="15" fill="#008000"/>
<rect x="1151" y="182" width="5" height="5" fill="#008000"/>
<rect x="1158" y="168" width="1" height="19" fill="#008000"/>
<rect x="1156" y="168" width="5" height="14" fill="#008000"/>
<rect x="1164" y="167" width="1" height="12" fill="#008000"/>
<rect x="1162" y="169" width="5" height="2" fill="#008000"/>
<rect x="1170" y="173" width="1" height="9" fill="#ff0000"/>
<rect x="1168" y="174" width="5" height="2" fill="#ff0000"/>
<rect x="1175" y="156" width="1" height="12" fill="#008000"/>
<rect x="1173" y="160" width="5" height="9" fill="#008000"/>
<rect x="1181" y="144" width="1" height="6" fill="#008000"/>
<rect x="1179" y="144" width="5" height="5" fill="#008000"/>
<rect x="1186" y="124" width="1" height="12" fill="#008000"/>
<rect x="1184" y="125" width="5" height="12" fill="#008000"/>
<rect x="1192" y="122" width="1" height="7" fill="#008000"/>
<rect x="1190" y="126" width="5" height="2" fill="#008000"/>
<rect x="1197" y="123" width="1" height="8" fill="#008000"/>
<rect x="1195" y="124" width="5" height="4" fill="#008000"/>
<rect x="1203" y="114" width="1" height="5" fill="#008000"/>
<rect x="1201" y="114" width="5" height="2" fill="#008000"/>
<rect x="1209" y="108" width="1" height="13" fill="#008000"/>
<rect x="1207" y="108" width="5" height="9" fill="#008000"/>
<rect x="1214" y="109" width="1" height="8" fill="#008000"/>
<rect x="1220" y="98" width="1" height="7" fill="#008000"/>
<rect x="1218" y="98" width="5" height="8" fill="#008000"/>
<rect x="1225" y="98" width="1" height="15" fill="#ff0000"/>
<rect x="1223" y="98" width="5" height="12" fill="#ff0000"/>
<rect x="1231" y="95" width="1" height="6" fill="#008000"/>
<rect x="1229" y="95" width="5" height="7" fill="#008000"/>
<rect x="1236" y="94" width="1" height="6" fill="#008000"/>
<rect x="1234" y="94" width="4" height="1" fill="#008000"/>
<rect x="1242" y="96" width="1" height="13" fill="#ff0000"/>
<rect x="1240" y="99" width="5" height="5" fill="#ff0000"/>
<rect x="1248" y="103" width="1" height="14" fill="#ff0000"/>
<rect x="1246" y="105" width="5" height="6" fill="#ff0000"/>
<rect x="1253" y="102" width="1" height="16" fill="#008000"/>
<rect x="1251" y="102" width="5" height="11" fill="#008000"/>
<rect x="1259" y="101" width="1" height="17" fill="#ff0000"/>
<rect x="1257" y="103" width="5" height="11" fill="#ff0000"/>
<rect x="1264" y="99" width="1" height="14" fill="#008000"/>
<rect x="1262" y="101" width="5" height="9" fill="#008000"/>
<rect x="1270" y="95" width="1" height="9" fill="#008000"/>
<rect x="1268" y="95" width="5" height="5" fill="#008000"/>
<rect x="1275" y="94" width="1" height="9" fill="#ff0000"/>
<rect x="1273" y="94" width="5" height="6" fill="#ff0000"/>
<rect x="1281" y="99" width="1" height="4" fill="#ff0000"/>
<rect x="1279" y="100" width="5" height="4" fill="#ff0000"/>
<rect x="1287" y="92" width="1" height="17" fill="#ff0000"/>
<rect x="1285" y="93" width="5" height="6" fill="#ff0000"/>
<rect x="1292" y="100" width="1" height="9" fill="#008000"/>
<rect x="1290" y="107" width="4" height="1" fill="#008000"/>
<rect x="1298" y="101" width="1" height="12" fill="#ff0000"/>
<rect x="1296" y="102" width="5" height="8" fill="#ff0000"/>
<rect x="1303" y="119" width="1" height="21" fill="#ff0000"/>
<rect x="1301" y="119" width="5" height="10" fill="#ff0000"/>
<rect x="1309" y="121" width="1" height="13" fill="#ff0000"/>
<rect x="1307" y="122" width="5" height="10" fill="#ff0000"/>
<rect x="1314" y="124" width="1" height="16" fill="#008000"/>
<rect x="1312" y="124" width="5" height="9" fill="#008000"/>
<rect x="1320" y="111" width="1" height="10" fill="#008000"/>
<rect x="1318" y="117" width="4" height="1" fill="#008000"/>
<rect x="1326" y="122" width="1" height="19" fill="#ff0000"/>
<rect x="1324" y="122" width="5" height="20" fill="#ff0000"/>
<rect x="1331" y="141" width="1" height="18" fill="#008000"/>
<rect x="1329" y="142" width="5" height="18" fill="#008000"/>
<rect x="1337" y="151" width="1" height="19" fill="#ff0000"/>
<rect x="1335" y="156" width="5" height="11" fill="#ff0000"/>
<rect x="1342" y="152" width="1" height="15" fill="#ff0000"/>
<rect x="1340" y="158" width="5" height="2" fill="#ff0000"/>
<rect x="1348" y="138" width="1" height="14" fill="#008000"/>
<rect x="1346" y="139" width="5" height="11" fill="#008000"/>
<rect x="1353" y="143" width="1" height="11" fill="#ff0000"/>
<rect x="1351" y="144" width="5" height="2" fill="#ff0000"/>
<rect x="1359" y="140" width="1" height="11" fill="#ff0000"/>
<rect x="1357" y="142" width="5" height="10" fill="#ff0000"/>
<rect x="1365" y="150" width="1" height="16" fill="#008000"/>
<rect x="1363" y="150" width="5" height="17" fill="#008000"/>
<rect x="1370" y="131" width="1" height="14" fill="#008000"/>
<rect x="1368" y="132" width="5" height="14" fill="#008000"/>
<rect x="1376" y="127" width="1" height="13" fill="#ff0000"/>
<rect x="1374" y="127" width="5" height="11" fill="#ff0000"/>
<rect x="1381" y="120" width="1" height="12" fill="#008000"/>
<rect x="1379" y="122" width="5" height="11" fill="#008000"/>
<rect x="1387" y="117" width="1" height="8" fill="#ff0000"/>
<rect x="1385" y="118" width="5" height="3" fill="#ff0000"/>
<rect x="1392" y="117" width="1" height="5" fill="#008000"/>
<rect x="1390" y="118" width="5" height="1" fill="#008000"/>
<rect x="1398" y="117" width="1" height="3" fill="#ff0000"/>
<rect x="1396" y="119" width="5" height="2" fill="#ff0000"/>
<rect x="1404" y="114" width="1" height="5" fill="#ff0000"/>
<rect x="1402" y="117" width="5" height="3" fill="#ff0000"/>
<rect x="1409" y="113" width="1" height="13" fill="#ff0000"/>
<rect x="1407" y="113" width="5" height="8" fill="#ff0000"/>
<rect x="1415" y="118" width="1" height="7" fill="#008000"/>
<rect x="1413" y="120" width="5" height="1" fill="#008000"/>
<rect x="1420" y="125" width="1" height="10" fill="#ff0000"/>
<rect x="1418" y="127" width="5" height="3" fill="#ff0000"/>
<rect x="1426" y="112" width="1" height="11" fill="#008000"/>
<rect x="1424" y="112" width="5" height="12" fill="#008000"/>
<rect x="73" y="91" width="1422" height="1" fill="#000"/>
<rect x="73" y="110" width="1422" height="1" fill="#000"/>
<line x1="999" y1="108.525" x2="1470" y2="76.71" stroke="#fff" stroke-width="1"/>
<line x1="999" y1="108.525" x2="1470" y2="76.71" stroke="#000" stroke-width="1" stroke-dasharray="3.0068 3.0068"/>
<rect x="412" y="337" width="2" height="1" fill="#000"/><rect x="414" y="336" width="1" height="1" fill="#000"/>
<rect x="423" y="335" width="4" height="1" fill="#000"/><rect x="427" y="334" width="3" height="1" fill="#000"/>
<line x1="354" y1="217.511" x2="1455" y2="28.491" stroke="#000080" stroke-width="2"/>
<line x1="432" y1="341.564" x2="1438" y2="156.460" stroke="#000080" stroke-width="2"/>
<line x1="1287" y1="92.5" x2="1409" y2="154.5" stroke="#ff0000" stroke-width="1"/>
<line x1="1410" y1="160.5" x2="1415" y2="164.5" stroke="#000" stroke-width="1"/>
<polygon points="1368.5,174 1377,185 1373,185 1373,195 1364,195 1364,185 1360,185" fill="#000"/>
<polyline points="229.1,545.1 240.1,549.1 252.1,549.1 266.2,547.1 276.2,548.1 286.2,550.1 294.2,548.1 312.3,545.1 340.4,542.1 356.4,538.1 368.4,532.5 376.5,530.5 382.5,531.7 400.5,539.7 420.6,551.1 434.6,560.1 444.6,569.2 456.7,576.2 464.7,576.2 484.7,572.6 500,571.2 510,569.2 524.1,563.1 540.1,557.5 554.1,557.1 580.2,557.5 590.2,559.7 600.3,563.7 608.3,567.7 616.3,569.6 630.3,568.2 644.4,567.5 660.4,565.7 680.5,559.7 700.5,556.5 710.5,555.7 720.6,552.5 740.6,547.1 748.6,545.1 770.7,543.1 796.8,539.7 812,542.5 824.1,541.7 838.1,540.1 852.1,541.1 876.2,544.5 894.2,547.1 912.3,548.1 926.3,545.3 936.4,546.5 948.4,549.1 966.4,546.1 984.5,546.5 1002.5,547.7 1012.6,546.5 1018.6,545.7 1030.6,550.1 1050.7,559.1 1062.7,564.1 1072.7,572.2 1084.7,579.2 1100,582.2 1114.2,580 1121,577.5 1141.5,574.8 1164.2,570.2 1182.4,568 1198.3,564.1 1214.2,557.7 1232.4,550.5 1250.5,545.2 1264.2,544.1 1277.8,544.5 1289.2,546.4 1300.5,550.9 1314.2,556.6 1325.5,558.9 1341.5,566.8 1357.4,573.6 1368.7,577 1377.8,578.2 1391.5,574.8 1405.1,572.5 1418.7,568 1425.5,564.5" fill="none" stroke="#808000" stroke-width="1"/>
<polyline points="78.5,604 83.5,542.4 89.5,537.7 94.5,534.6 100.5,549.8 105.5,546 111.5,561.8 117.5,556.6 122.5,547 128.5,543.4 133.5,540.6 139.5,531.6 144.5,537 150.5,532.5 156.5,530.2 161.5,527.8 167.5,543.7 172.5,540.5 178.5,539.8 183.5,544.9 189.5,544.5 195.5,533.5 200.5,540.9 206.5,540.9 211.5,559.4 217.5,563.9 222.5,556 228.5,563.1 234.5,557.5 239.5,554.4 245.5,547.2 250.5,541.4 256.5,539.3 261.5,538.5 267.5,534.2 273.5,543.1 278.5,545.9 284.5,560.1 289.5,548.1 295.5,548.1 300.5,548.1 306.5,542 312.5,538.7 317.5,544.3 323.5,538.2 328.5,535.4 334.5,532.4 339.5,529.1 345.5,521.7 351.5,525 356.5,523.5 362.5,521 367.5,515.6 373.5,512.9 378.5,554.7 384.5,562.9 390.5,582.7 395.5,570.7 401.5,577.3 406.5,579.9 412.5,573.7 417.5,566.7 423.5,573.3 429.5,577.3 434.5,582.7 440.5,581.6 445.5,572.8 451.5,583.6 456.5,581.1 462.5,571.2 468.5,563.8 473.5,564.6 479.5,561.3 484.5,555.5 490.5,568.7 495.5,560.5 501.5,567.9 507.5,561.3 512.5,559.1 518.5,553.9 523.5,543.6 529.5,543.1 534.5,548.1 540.5,551.9 546.5,553.9 551.5,563 557.5,562.9 562.5,562.9 568.5,562.9 573.5,562.9 579.5,571.2 585.5,567.9 590.5,586 596.5,576.6 601.5,586 607.5,586 612.5,575.3 618.5,557.2 624.5,546.9 629.5,546.9 635.5,557.2 640.5,566.4 646.5,558.5 651.5,559.6 657.5,555.8 663.5,554.7 668.5,554.7 674.5,558.8 679.5,556.8 685.5,559.6 690.5,559.6 696.5,553 702.5,549.2 707.5,545.3 713.5,545.3 718.5,538.2 724.5,537.7 729.5,537.7 735.5,535.7 741.5,532.5 746.5,531.6 752.5,551.9 757.5,552.2 763.5,553 768.5,547.3 774.5,541.5 780.5,539 785.5,534.9 791.5,535.7 796.5,539.8 802.5,539.8 807.5,545.3 813.5,542.6 819.5,534.9 824.5,534.9 830.5,534.9 835.5,532.2 841.5,554.2 846.5,548.1 852.5,562.9 858.5,544.8 863.5,537.7 869.5,552.5 874.5,553 880.5,549.7 885.5,553.5 891.5,560.8 897.5,550.9 902.5,538.2 908.5,534.9 913.5,536.5 919.5,532.7 924.5,532.9 930.5,558.8 936.5,555.2 941.5,570 947.5,556.3 952.5,548.9 958.5,550.6 963.5,545.3 969.5,544.8 975.5,540.7 980.5,540.7 986.5,542.6 991.5,540.3 997.5,537.4 1002.5,539.8 1008.5,545.6 1014.5,550.2 1019.5,554.7 1025.5,577.2 1030.5,577.8 1036.5,572.8 1041.5,592.6 1047.5,588.5 1053.5,568.7 1058.5,576.1 1064.5,586.9 1069.5,595.9 1075.5,586.9 1080.5,595.9 1086.5,577 1092.5,576.6 1097.5,567.9 1103.5,571.2 1108.5,566.2 1114.5,564 1119.5,562.9 1125.5,576.1 1131.5,573.3 1136.5,565.4 1142.5,567.4 1147.5,575.6 1153.5,575.6 1158.5,569 1164.5,568.4 1170.5,570.7 1175.5,562.1 1181.5,553 1186.5,546.4 1192.5,546.4 1197.5,545.3 1203.5,541 1209.5,538.7 1214.5,539.8 1220.5,534.9 1225.5,545.9 1231.5,538.2 1236.5,538.2 1242.5,545.3 1248.5,551.9 1253.5,547.6 1259.5,556.8 1264.5,550.2 1270.5,546.4 1275.5,549.2 1281.5,553.9 1287.5,551.9 1292.5,558.5 1298.5,561.3 1303.5,575.3 1309.5,577 1314.5,571.2 1320.5,565.7 1326.5,582.2 1331.5,582.7 1337.5,595.9 1342.5,590.2 1348.5,574.5 1353.5,577 1359.5,580.6 1365.5,580.6 1370.5,567.9 1376.5,570.7 1381.5,560 1387.5,559.1 1392.5,557.6 1398.5,559.7 1404.5,560 1409.5,560.9 1415.5,559.8 1420.5,568.6 1426.5,555.6" fill="none" stroke="#000" stroke-width="2" stroke-linejoin="round"/>
<clipPath id="mc"><rect x="73" y="499" width="1422" height="13"/></clipPath>
<text x="3" y="31" font-size="11" font-family="Liberation Sans, Arial, sans-serif" stroke-width="0.18" fill="#000" stroke="#000">15,000</text>
<text x="3" y="66" font-size="11" font-family="Liberation Sans, Arial, sans-serif" stroke-width="0.18" fill="#000" stroke="#000">14,500</text>
<text x="3" y="101" font-size="11" font-family="Liberation Sans, Arial, sans-serif" stroke-width="0.18" fill="#000" stroke="#000">14,000</text>
<text x="3" y="136" font-size="11" font-family="Liberation Sans, Arial, sans-serif" stroke-width="0.18" fill="#000" stroke="#000">13,500</text>
<text x="3" y="171" font-size="11" font-family="Liberation Sans, Arial, sans-serif" stroke-width="0.18" fill="#000" stroke="#000">13,000</text>
<text x="3" y="206" font-size="11" font-family="Liberation Sans, Arial, sans-serif" stroke-width="0.18" fill="#000" stroke="#000">12,500</text>
<text x="3" y="241" font-size="11" font-family="Liberation Sans, Arial, sans-serif" stroke-width="0.18" fill="#000" stroke="#000">12,000</text>
<text x="3" y="276" font-size="11" font-family="Liberation Sans, Arial, sans-serif" stroke-width="0.18" fill="#000" stroke="#000">11,500</text>
<text x="3" y="311" font-size="11" font-family="Liberation Sans, Arial, sans-serif" stroke-width="0.18" fill="#000" stroke="#000">11,000</text>
<text x="3" y="346" font-size="11" font-family="Liberation Sans, Arial, sans-serif" stroke-width="0.18" fill="#000" stroke="#000">10,500</text>
<text x="3" y="381" font-size="11" font-family="Liberation Sans, Arial, sans-serif" stroke-width="0.18" fill="#000" stroke="#000">10,000</text>
<text x="74.2" y="100.6" font-size="9.3" font-family="Liberation Sans, Arial, sans-serif" stroke-width="0.18" fill="#000" textLength="24" lengthAdjust="spacingAndGlyphs" stroke="#000">14091</text>
<text x="74.2" y="119.6" font-size="9.3" font-family="Liberation Sans, Arial, sans-serif" stroke-width="0.18" fill="#000" textLength="24" lengthAdjust="spacingAndGlyphs" stroke="#000">13818</text>
<text x="2.5" y="412" font-size="9.2" font-family="Liberation Sans, Arial, sans-serif" stroke-width="0.18" fill="#808080">11,102,160</text>
<text x="2.5" y="451" font-size="9.2" font-family="Liberation Sans, Arial, sans-serif" stroke-width="0.18" fill="#808080">5,551,080</text>
<text x="3.2" y="537" font-size="9.5" font-family="Liberation Sans, Arial, sans-serif" stroke-width="0.18" fill="#000" stroke="#000">70</text>
<text x="3.2" y="571" font-size="9.5" font-family="Liberation Sans, Arial, sans-serif" stroke-width="0.18" fill="#000" stroke="#000">50</text>
<text x="3.2" y="607" font-size="9.5" font-family="Liberation Sans, Arial, sans-serif" stroke-width="0.18" fill="#000" stroke="#000">30</text>
<g clip-path="url(#mc)"><text x="128" y="512" font-size="11" font-family="Liberation Sans, Arial, sans-serif" stroke-width="0.18" fill="#000" stroke="#000">Jul</text><text x="250" y="512" font-size="11" font-family="Liberation Sans, Arial, sans-serif" stroke-width="0.18" fill="#000" stroke="#000">Aug</text><text x="367" y="512" font-size="11" font-family="Liberation Sans, Arial, sans-serif" stroke-width="0.18" fill="#000" stroke="#000">Sep</text><text x="484" y="512" font-size="11" font-family="Liberation Sans, Arial, sans-serif" stroke-width="0.18" fill="#000" stroke="#000">Oct</text><text x="607" y="512" font-size="11" font-family="Liberation Sans, Arial, sans-serif" stroke-width="0.18" fill="#000" stroke="#000">Nov</text><text x="718" y="512" font-size="11" font-family="Liberation Sans, Arial, sans-serif" stroke-width="0.18" fill="#000" stroke="#000">Dec</text><text x="841" y="512" font-size="11" font-family="Liberation Sans, Arial, sans-serif" stroke-width="0.18" fill="#000" stroke="#000">2021</text><text x="947" y="512" font-size="11" font-family="Liberation Sans, Arial, sans-serif" stroke-width="0.18" fill="#000" stroke="#000">Feb</text><text x="1053" y="512" font-size="11" font-family="Liberation Sans, Arial, sans-serif" stroke-width="0.18" fill="#000" stroke="#000">Mar</text><text x="1181" y="512" font-size="11" font-family="Liberation Sans, Arial, sans-serif" stroke-width="0.18" fill="#000" stroke="#000">Apr</text><text x="1298" y="512" font-size="11" font-family="Liberation Sans, Arial, sans-serif" stroke-width="0.18" fill="#000" stroke="#000">May</text><text x="1409" y="512" font-size="11" font-family="Liberation Sans, Arial, sans-serif" stroke-width="0.18" fill="#000" stroke="#000">Jun</text></g>
<rect x="73" y="513" width="92" height="11" fill="#fff"/>
<text x="74.5" y="521" font-size="9.5" font-family="Liberation Sans, Arial, sans-serif" stroke-width="0.18" fill="#000" stroke="#000">Sm.RSI 14/14 = 57.0</text>
<rect x="73" y="479" width="202" height="18" fill="#fff"/>
<clipPath id="wc"><rect x="73" y="480" width="202" height="17"/></clipPath>
<text x="76.3" y="493.6" font-size="16" font-family="Liberation Sans, Arial, sans-serif" stroke-width="0.18" fill="#000" textLength="113.5" lengthAdjust="spacingAndGlyphs" stroke="#000">Bursagraph.co.il</text>
<rect x="195" y="482" width="1" height="15" fill="#000"/>
<text x="201.5" y="493.6" font-size="16" font-family="Liberation Sans, Arial, sans-serif" stroke-width="0.18" fill="#000" textLength="72.5" lengthAdjust="spacingAndGlyphs" stroke="#000">נאסדק מאה</text>
<text x="1254.5" y="156" font-size="12" font-family="Liberation Sans, Arial, sans-serif" stroke-width="0.18" fill="#000" textLength="61" lengthAdjust="spacingAndGlyphs" stroke="#000">פריצת קו יורד</text>
<text x="1338.5" y="206.5" font-size="12" font-family="Liberation Sans, Arial, sans-serif" stroke-width="0.18" fill="#000" textLength="115.5" lengthAdjust="spacingAndGlyphs" stroke="#000">נר היפוך על תחתית תעלה</text>
<text x="1371.5" y="220.5" font-size="12" font-family="Liberation Sans, Arial, sans-serif" stroke-width="0.18" fill="#000" textLength="51" lengthAdjust="spacingAndGlyphs" stroke="#000">ארוכת טווח</text>
<rect x="0" y="0" width="1496" height="1" fill="#000"/>
<rect x="0" y="0" width="1" height="606" fill="#000"/>
<rect x="1495" y="0" width="1" height="606" fill="#000"/>
<rect x="72" y="0" width="1" height="498" fill="#000"/>
<rect x="72" y="396" width="1423" height="1" fill="#000"/>
<rect x="72" y="497" width="1423" height="2" fill="#000"/>
<rect x="72" y="513" width="1" height="91" fill="#000"/>
<rect x="0" y="604" width="1496" height="1" fill="#a0a0a0"/>
<rect x="0" y="605" width="1496" height="1" fill="#000"/>
</svg>
</body></html>
